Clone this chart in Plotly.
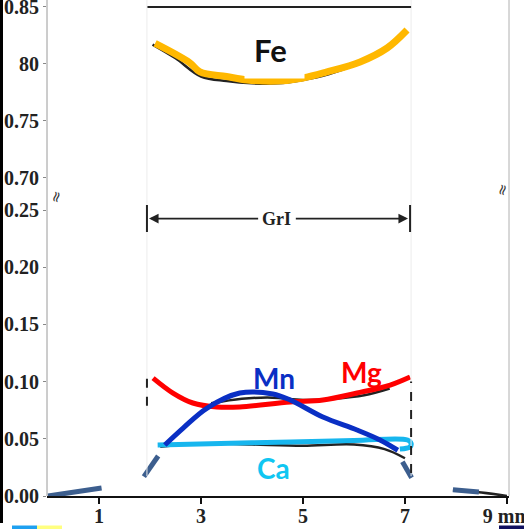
import plotly.graph_objects as go

# ---------------- data ----------------
fe_x = [2.1, 2.78, 2.98, 3.5, 3.9, 4.5, 5.0, 5.47, 6.12, 6.65, 7.04]
fe_y = [0.818, 0.801, 0.793, 0.789, 0.786, 0.785, 0.7877, 0.793, 0.8018, 0.814, 0.8298]

fe_raw_x = [2.05, 2.5, 3.0, 3.5, 4.0, 4.5, 5.0, 5.5, 6.0, 6.5, 7.0]
fe_raw_y = [0.817, 0.805, 0.789, 0.785, 0.783, 0.783, 0.786, 0.791, 0.799, 0.811, 0.826]

mg_x = [2.06, 2.45, 2.84, 3.31, 3.76, 4.75, 5.39, 6.06, 6.71, 7.1]
mg_y = [0.1031, 0.090, 0.0813, 0.0778, 0.0778, 0.0822, 0.0839, 0.090, 0.097, 0.104]

mn_x = [2.29, 2.65, 3.12, 3.76, 4.41, 4.75, 5.39, 6.06, 6.51, 6.86]
mn_y = [0.0446, 0.0594, 0.0769, 0.090, 0.0892, 0.0839, 0.069, 0.0577, 0.049, 0.040]

ca_x = [2.15, 4.0, 6.0, 7.05, 7.12, 7.1, 6.9]
ca_y = [0.0445, 0.0465, 0.0485, 0.049, 0.046, 0.043, 0.041]

raw_low_x = [3.2, 3.8, 4.4, 5.0, 5.6, 6.2, 6.7, None, 2.2, 3.0, 4.0, 5.0, 6.0, 6.6, 7.0, None, 7.94, 8.5, 9.0]
raw_low_y = [0.081, 0.085, 0.086, 0.084, 0.085, 0.088, 0.094, None, 0.043, 0.046, 0.045, 0.044, 0.045, 0.041, 0.033, None, 0.005, 0.003, 0.0]

dash_x = [0.0, 1.05, None, 1.88, 2.16, None, 6.95, 7.13, None, 7.94, 8.45]
dash_y = [0.0, 0.007, None, 0.017, 0.035, None, 0.030, 0.016, None, 0.0055, 0.0035]

low_ticks = [0.0, 0.05, 0.10, 0.15, 0.20, 0.25]
low_labels = ["0.00", "0.05", "0.10", "0.15", "0.20", "0.25"]
up_ticks = [0.70, 0.75, 0.80, 0.85]
up_labels = ["0.70", "0.75", "80", "0.85"]
x_ticks = [1, 3, 5, 7, 9]
x_labels = ["1", "3", "5", "7", "9 mm"]

C_FE = "#FFB800"
C_MG = "#FF0000"
C_MN = "#0A2FC4"
C_CA = "#17B6EE"
C_DASH = "#3C5E8E"

serif = dict(family="Liberation Serif", size=20, color="#222", weight="bold")

fig = go.Figure()

def line(x, y, color, width, yaxis="y", dash=None):
    fig.add_trace(go.Scatter(x=x, y=y, mode="lines", yaxis=yaxis, xaxis="x",
                             line=dict(color=color, width=width, shape="spline", dash=dash),
                             hoverinfo="skip", showlegend=False, connectgaps=False))

line(fe_raw_x, fe_raw_y, "#222", 2.5, yaxis="y2")
line(raw_low_x, raw_low_y, "#222", 2.5)
line(dash_x, dash_y, C_DASH, 5)
line(fe_x, fe_y, C_FE, 7, yaxis="y2")
line(mg_x, mg_y, C_MG, 5)
line(ca_x, ca_y, C_CA, 5)
line(mn_x, mn_y, C_MN, 5)

shapes = []
shapes.append(dict(type="line", xref="paper", yref="paper", x0=0, x1=0, y0=0, y1=1,
                   line=dict(color="#9a9a9a", width=1)))
shapes.append(dict(type="line", xref="paper", yref="paper", x0=1, x1=1, y0=0, y1=1,
                   line=dict(color="#b0b0b0", width=1)))
for xv in [1.94, 7.12]:
    shapes.append(dict(type="line", xref="x", yref="paper", x0=xv, x1=xv, y0=0.04, y1=1,
                       line=dict(color="#ececec", width=1)))
shapes.append(dict(type="line", xref="x", yref="y2", x0=1.95, x1=7.12, y0=0.85, y1=0.85,
                   line=dict(color="#222", width=2)))
for xv in [1.94, 7.1]:
    shapes.append(dict(type="line", xref="x", yref="y", x0=xv, x1=xv, y0=0.2308, y1=0.2544,
                       line=dict(color="#222", width=2)))
shapes.append(dict(type="line", xref="x", yref="y", x0=1.94, x1=1.94, y0=0.079, y1=0.103,
                   line=dict(color="#222", width=2, dash="dash")))
shapes.append(dict(type="line", xref="x", yref="y", x0=7.12, x1=7.12, y0=0.02, y1=0.1,
                   line=dict(color="#222", width=2, dash="dash")))
shapes.append(dict(type="rect", xref="paper", yref="paper", x0=-47/462, x1=-44/462,
                   y0=-27/496, y1=1, line=dict(width=0), fillcolor="#000"))
shapes.append(dict(type="rect", xref="paper", yref="paper", x0=-35/462, x1=-10/462,
                   y0=-33/496, y1=-29.5/496, line=dict(width=0), fillcolor="#1EA0F0"))
shapes.append(dict(type="rect", xref="paper", yref="paper", x0=-10/462, x1=15/462,
                   y0=-33/496, y1=-29.5/496, line=dict(width=0), fillcolor="#FFFF80"))
shapes.append(dict(type="rect", xref="paper", yref="paper", x0=452/462, x1=477/462,
                   y0=-33/496, y1=-29.5/496, line=dict(width=0), fillcolor="#101060"))

annotations = []
def lab(text, x, y, color, size, yref="y", **kw):
    annotations.append(dict(text=text, x=x, y=y, xref="x", yref=yref, showarrow=False,
                            font=dict(family="Lato", size=size, color=color, weight="bold"), **kw))

annotations.append(dict(text="", x=4.44, y=0.8095, xref="x", yref="y2", showarrow=False,
                        width=57, height=47, bgcolor="white"))
lab("Fe", 4.37, 0.8125, "#111", 31, yref="y2")
lab("Mn", 4.43, 0.1031, C_MN, 28)
lab("Mg", 6.14, 0.1084, C_MG, 28)
lab("Ca", 4.43, 0.0245, "#10C6F2", 28)
annotations.append(dict(text="GrI", x=4.49, y=0.2425, xref="x", yref="y", showarrow=False,
                        font=dict(family="Liberation Serif", size=18, color="#222", weight="bold")))
for head, tail in [(1.98, 4.15), (7.06, 4.83)]:
    annotations.append(dict(text="", x=head, y=0.2425, ax=tail, ay=0.2425, xref="x", yref="y",
                            axref="x", ayref="y", showarrow=True, arrowhead=2, arrowsize=1.2,
                            arrowwidth=1.6, arrowcolor="#222"))
for xp, yp in [(-0.008, (496 - 197) / 496), (1.013, (496 - 190) / 496)]:
    annotations.append(dict(text="≈", x=xp, y=yp, xref="paper", yref="paper",
                            showarrow=False, textangle=-75,
                            font=dict(family="DejaVu Sans", size=15, color="#333")))

fig.update_layout(
    width=524, height=529,
    margin=dict(l=47, r=15, t=0, b=33, autoexpand=False),
    paper_bgcolor="white", plot_bgcolor="white",
    shapes=shapes, annotations=annotations,
    xaxis=dict(range=[-0.02, 9.04], tickvals=x_ticks, ticktext=x_labels,
               showline=True, linecolor="#111", linewidth=2, mirror=False,
               ticks="outside", ticklen=6, tickwidth=1.5, tickcolor="#111",
               ticklabeloverflow="allow", automargin=False, ticklabelstandoff=-5,
               showgrid=False, zeroline=False, tickfont=serif, anchor="y"),
    yaxis=dict(domain=[0, 291 / 496], range=[0, 0.2544], tickvals=low_ticks, ticktext=low_labels,
               showline=False, ticks="outside", ticklen=3, tickcolor="#888",
               ticklabeloverflow="allow", automargin=False,
               showgrid=False, zeroline=False, tickfont=serif, anchor="x"),
    yaxis2=dict(domain=[(496 - 192) / 496, 1], range=[0.6877, 0.8561], tickvals=up_ticks,
                ticktext=up_labels, showline=False, ticks="outside", ticklen=3, tickcolor="#888",
                ticklabeloverflow="allow", automargin=False,
                showgrid=False, zeroline=False, tickfont=serif, anchor="x"),
)

fig.write_html("out.html")
